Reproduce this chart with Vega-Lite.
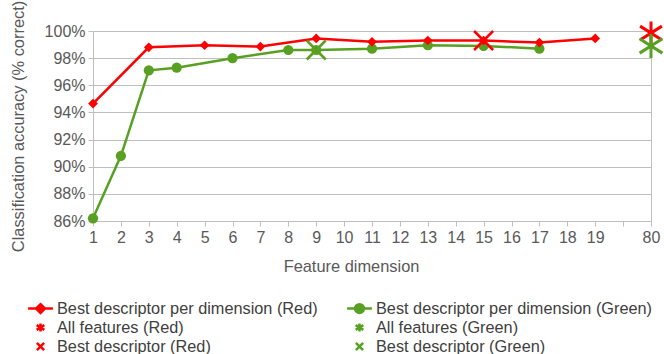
{
  "$schema": "https://vega.github.io/schema/vega-lite/v6.json",
  "autosize": "none",
  "width": 558,
  "height": 190,
  "padding": {"left": 93, "top": 31, "right": 13, "bottom": 133},
  "background": "white",
  "config": {
    "font": "Liberation Sans",
    "view": {"stroke": null},
    "axis": {"labelFont": "Liberation Sans", "titleFont": "Liberation Sans", "labelFontSize": 16, "titleFontSize": 16.4, "labelColor": "#595959", "titleColor": "#595959", "titleFontWeight": "normal", "domain": true, "ticks": true, "domainColor": "#BFBFBF", "domainWidth": 1, "tickColor": "#BFBFBF", "tickWidth": 1, "gridColor": "#BFBFBF", "tickSize": 5}
  },
  "data": {"values": [
    {"series": "Best descriptor per dimension (Green)", "dim": "1", "acc": 86.2},
    {"series": "Best descriptor per dimension (Green)", "dim": "2", "acc": 90.8},
    {"series": "Best descriptor per dimension (Green)", "dim": "3", "acc": 97.1},
    {"series": "Best descriptor per dimension (Green)", "dim": "4", "acc": 97.3},
    {"series": "Best descriptor per dimension (Green)", "dim": "6", "acc": 98.0},
    {"series": "Best descriptor per dimension (Green)", "dim": "8", "acc": 98.6},
    {"series": "Best descriptor per dimension (Green)", "dim": "9", "acc": 98.6},
    {"series": "Best descriptor per dimension (Green)", "dim": "11", "acc": 98.7},
    {"series": "Best descriptor per dimension (Green)", "dim": "13", "acc": 98.95},
    {"series": "Best descriptor per dimension (Green)", "dim": "15", "acc": 98.9},
    {"series": "Best descriptor per dimension (Green)", "dim": "17", "acc": 98.7},
    {"series": "Best descriptor per dimension (Red)", "dim": "1", "acc": 94.65},
    {"series": "Best descriptor per dimension (Red)", "dim": "3", "acc": 98.8},
    {"series": "Best descriptor per dimension (Red)", "dim": "5", "acc": 98.95},
    {"series": "Best descriptor per dimension (Red)", "dim": "7", "acc": 98.85},
    {"series": "Best descriptor per dimension (Red)", "dim": "9", "acc": 99.45},
    {"series": "Best descriptor per dimension (Red)", "dim": "11", "acc": 99.2},
    {"series": "Best descriptor per dimension (Red)", "dim": "13", "acc": 99.3},
    {"series": "Best descriptor per dimension (Red)", "dim": "15", "acc": 99.3},
    {"series": "Best descriptor per dimension (Red)", "dim": "17", "acc": 99.15},
    {"series": "Best descriptor per dimension (Red)", "dim": "19", "acc": 99.45},
    {"series": "All features (Red)", "dim": "80", "acc": 99.85},
    {"series": "All features (Green)", "dim": "80", "acc": 98.9},
    {"series": "Best descriptor (Red)", "dim": "15", "acc": 99.3},
    {"series": "Best descriptor (Green)", "dim": "9", "acc": 98.6}
  ]},
  "encoding": {
    "x": {"field": "dim", "type": "ordinal",
      "scale": {"type": "point", "padding": 0, "domain": ["1","2","3","4","5","6","7","8","9","10","11","12","13","14","15","16","17","18","19"," ","80"]},
      "axis": {"title": "Feature dimension", "labelAngle": 0, "labelPadding": 3, "titlePadding": 13, "titleX": 258,
        "grid": true, "gridColor": {"condition": {"test": "datum.value == '80'", "value": "#BFBFBF"}, "value": "transparent"}}},
    "y": {"field": "acc", "type": "quantitative",
      "scale": {"domain": [86, 100], "nice": false, "zero": false},
      "axis": {"title": "Classification accuracy (% correct)", "values": [86,88,90,92,94,96,98,100], "labelExpr": "datum.value + '%'", "labelPadding": 3, "titlePadding": 18, "grid": true}}
  },
  "layer": [
    {
      "transform": [{"filter": "datum.series == 'Best descriptor per dimension (Green)'"}],
      "mark": {"type": "line", "strokeWidth": 2.5, "color": "#58A021"},
      "encoding": {}
    },
    {
      "transform": [{"filter": "datum.series == 'Best descriptor per dimension (Red)'"}],
      "mark": {"type": "line", "strokeWidth": 2.5, "color": "#FF0000"},
      "encoding": {}
    },
    {
      "transform": [{"filter": "datum.series == 'Best descriptor per dimension (Green)'"}],
      "mark": {"type": "point", "shape": "circle", "filled": true, "opacity": 1, "color": "#58A021", "size": 105},
      "encoding": {}
    },
    {
      "transform": [{"filter": "datum.series == 'Best descriptor per dimension (Red)'"}],
      "mark": {"type": "point", "shape": "diamond", "filled": true, "opacity": 1, "color": "#FF0000", "size": 95},
      "encoding": {}
    },
    {
      "transform": [{"filter": "datum.series == 'All features (Red)'"}],
      "mark": {"type": "point", "shape": "M0,-1V1M-0.95,-0.6L0.95,0.6M-0.95,0.6L0.95,-0.6", "filled": false, "opacity": 1, "color": "#FF0000", "size": 529, "strokeWidth": 3},
      "encoding": {}
    },
    {
      "transform": [{"filter": "datum.series == 'All features (Green)'"}],
      "mark": {"type": "point", "shape": "M0,-1V1M-0.95,-0.6L0.95,0.6M-0.95,0.6L0.95,-0.6", "filled": false, "opacity": 1, "color": "#58A021", "size": 576, "strokeWidth": 3},
      "encoding": {}
    },
    {
      "transform": [{"filter": "datum.series == 'Best descriptor (Red)'"}],
      "mark": {"type": "point", "shape": "M-1,-1L1,1M-1,1L1,-1", "filled": false, "opacity": 1, "color": "#FF0000", "size": 361, "strokeWidth": 2.5},
      "encoding": {}
    },
    {
      "transform": [{"filter": "datum.series == 'Best descriptor (Green)'"}],
      "mark": {"type": "point", "shape": "M-1,-1L1,1M-1,1L1,-1", "filled": false, "opacity": 1, "color": "#58A021", "size": 361, "strokeWidth": 2.5},
      "encoding": {}
    },
    {
      "mark": {"type": "point", "opacity": 0},
      "encoding": {
        "shape": {"field": "series", "type": "nominal",
          "scale": {"domain": ["Best descriptor per dimension (Red)", "All features (Red)", "Best descriptor (Red)", "Best descriptor per dimension (Green)", "All features (Green)", "Best descriptor (Green)"],
            "range": ["M-1.55,0H1.55M0,-0.55L0.55,0L0,0.55L-0.55,0Z", "M0,-0.5V0.5M-0.48,-0.3L0.48,0.3M-0.48,0.3L0.48,-0.3", "M-0.45,-0.45L0.45,0.45M-0.45,0.45L0.45,-0.45", "M-1.55,0H1.55M-0.55,0A0.55,0.55 0 1,1 0.55,0A0.55,0.55 0 1,1 -0.55,0Z", "M0,-0.5V0.5M-0.48,-0.3L0.48,0.3M-0.48,0.3L0.48,-0.3", "M-0.45,-0.45L0.45,0.45M-0.45,0.45L0.45,-0.45"]},
          "legend": {
            "title": null, "orient": "none", "legendX": -62, "legendY": 268, "columns": 2, "columnPadding": 24, "rowPadding": 0,
            "symbolSize": 256, "symbolStrokeWidth": 2.5, "symbolOpacity": 1, "labelOffset": 7, "labelFontSize": 16.3, "labelColor": "#404040", "labelFont": "Liberation Sans", "labelLimit": 400}},
        "fill": {"field": "series", "type": "nominal",
          "scale": {"domain": ["Best descriptor per dimension (Red)", "All features (Red)", "Best descriptor (Red)", "Best descriptor per dimension (Green)", "All features (Green)", "Best descriptor (Green)"],
            "range": ["#FF0000", "#FF0000", "#FF0000", "#58A021", "#58A021", "#58A021"]}},
        "stroke": {"field": "series", "type": "nominal",
          "scale": {"domain": ["Best descriptor per dimension (Red)", "All features (Red)", "Best descriptor (Red)", "Best descriptor per dimension (Green)", "All features (Green)", "Best descriptor (Green)"],
            "range": ["#FF0000", "#FF0000", "#FF0000", "#58A021", "#58A021", "#58A021"]}}
      }
    }
  ]
}
